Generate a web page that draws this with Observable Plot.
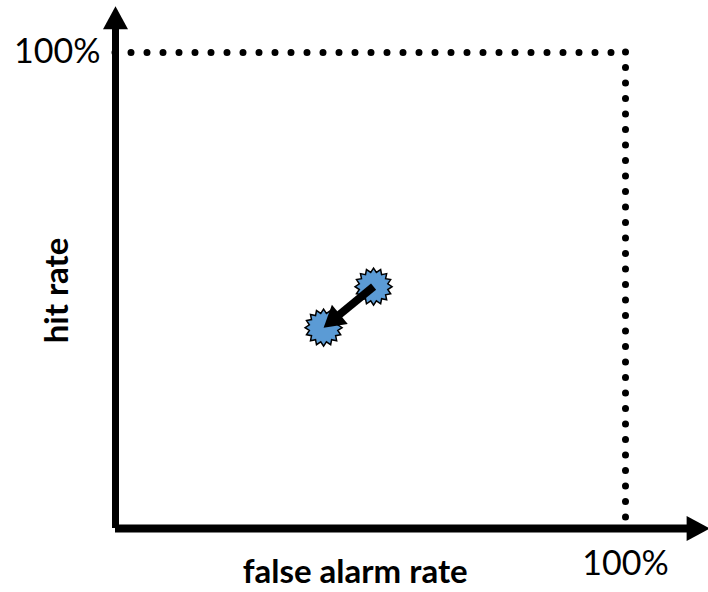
<!DOCTYPE html>
<html>
<head>
<meta charset="utf-8">
<script src="https://cdn.jsdelivr.net/npm/d3@7"></script>
<script src="https://cdn.jsdelivr.net/npm/@observablehq/plot@0.6"></script>
<style>
  html, body { margin: 0; padding: 0; background: #fff; }
  #chart svg { display: block; }
</style>
</head>
<body>
<div id="chart"></div>
<script>
// ---- data ----
const stages = ["before", "after"];
const falseAlarmRate = [0.506, 0.408];
const hitRate = [0.508, 0.422];
const axisExtentX = 1.165;   // x-axis arrow tip (in rate units)
const axisExtentY = 1.097;   // y-axis arrow tip (in rate units)
const tickLabels = ["100%", "100%"];
const axisTitles = ["false alarm rate", "hit rate"];

// ---- layout ----
const W = 708, H = 592;
const xRange = [115, 625], yRange = [528, 52];
const kx = (xRange[1] - xRange[0]), ky = (yRange[0] - yRange[1]);

const points = stages.map((s, i) => ({stage: s, x: falseAlarmRate[i], y: hitRate[i]}));

// custom symbols
function starSymbol(n, rOut, rIn) {
  return {draw(ctx) {
    for (let i = 0; i < 2 * n; i++) {
      const a = i * Math.PI / n - Math.PI / 2;
      const r = i % 2 ? rIn : rOut;
      const px = r * Math.cos(a), py = r * Math.sin(a);
      if (i === 0) ctx.moveTo(px, py); else ctx.lineTo(px, py);
    }
    ctx.closePath();
  }};
}
function headSymbol(len, wid) {
  return {draw(ctx) {
    ctx.moveTo(0, 0);
    ctx.lineTo(-wid / 2, len);
    ctx.lineTo(wid / 2, len);
    ctx.closePath();
  }};
}
const star = starSymbol(16, 18.5, 14.5);
const axisHead = headSymbol(23, 25);
const dataHead = headSymbol(21, 25);

// data arrow geometry (screen-space direction)
const p0 = points[0], p1 = points[1];
const sx = (p1.x - p0.x) * kx, sy = -(p1.y - p0.y) * ky;
const len = Math.hypot(sx, sy);
const ux = sx / len, uy = sy / len;
const angle = Math.atan2(sx, -sy) * 180 / Math.PI;
const shaftBack = 12;
const arrow = [{
  x1: p0.x, y1: p0.y,
  x2: p1.x - ux * shaftBack / kx,
  y2: p1.y + uy * shaftBack / ky,
  tx: p1.x, ty: p1.y
}];

const plot = Plot.plot({
  width: W, height: H,
  marginLeft: 0, marginRight: 0, marginTop: 0, marginBottom: 0,
  x: {domain: [0, 1], range: xRange, axis: null},
  y: {domain: [0, 1], range: yRange, axis: null},
  style: {background: "#fff", color: "#000"},
  marks: [
    // dotted 100% guides
    Plot.ruleY([1], {x1: 0, x2: 1, stroke: "#000", strokeWidth: 7, strokeDasharray: "0 16", strokeLinecap: "round"}),
    Plot.ruleX([1], {y1: 1, y2: 0, stroke: "#000", strokeWidth: 7, strokeDasharray: "0 15.5", strokeLinecap: "round"}),
    // axes
    Plot.ruleX([0], {y1: 0, y2: axisExtentY - 14 / ky, stroke: "#000", strokeWidth: 7}),
    Plot.ruleY([0], {x1: 0, x2: axisExtentX - 14 / kx, stroke: "#000", strokeWidth: 8}),
    Plot.dot([{x: 0, y: axisExtentY}], {x: "x", y: "y", symbol: axisHead, fill: "#000", stroke: null, rotate: 0}),
    Plot.dot([{x: axisExtentX, y: 0}], {x: "x", y: "y", symbol: axisHead, fill: "#000", stroke: null, rotate: 90}),
    // points
    Plot.dot(points, {x: "x", y: "y", symbol: star, fill: "#5B9BD5", stroke: "#000", strokeWidth: 1.5}),
    // change arrow
    Plot.link(arrow, {x1: "x1", y1: "y1", x2: "x2", y2: "y2", stroke: "#000", strokeWidth: 8}),
    Plot.dot(arrow, {x: "tx", y: "ty", symbol: dataHead, fill: "#000", stroke: null, rotate: angle}),
    // tick labels
    Plot.text([tickLabels[0]], {x: 0, y: 1, dx: -15, textAnchor: "end", fontSize: 34, fontFamily: "Lato", fill: "#000"}),
    Plot.text([tickLabels[1]], {x: 1, y: 0, dy: 36, textAnchor: "middle", fontSize: 34, fontFamily: "Lato", fill: "#000"}),
    // axis titles
    Plot.text([axisTitles[0]], {x: 0.47, y: 0, dy: 44, textAnchor: "middle", fontSize: 33, fontWeight: "bold", fontFamily: "Lato", fill: "#000"}),
    Plot.text([axisTitles[1]], {x: 0, y: 0.5, dx: -58, rotate: -90, textAnchor: "middle", fontSize: 33, fontWeight: "bold", fontFamily: "Lato", fill: "#000"})
  ]
});
document.getElementById("chart").appendChild(plot);
</script>
</body>
</html>
